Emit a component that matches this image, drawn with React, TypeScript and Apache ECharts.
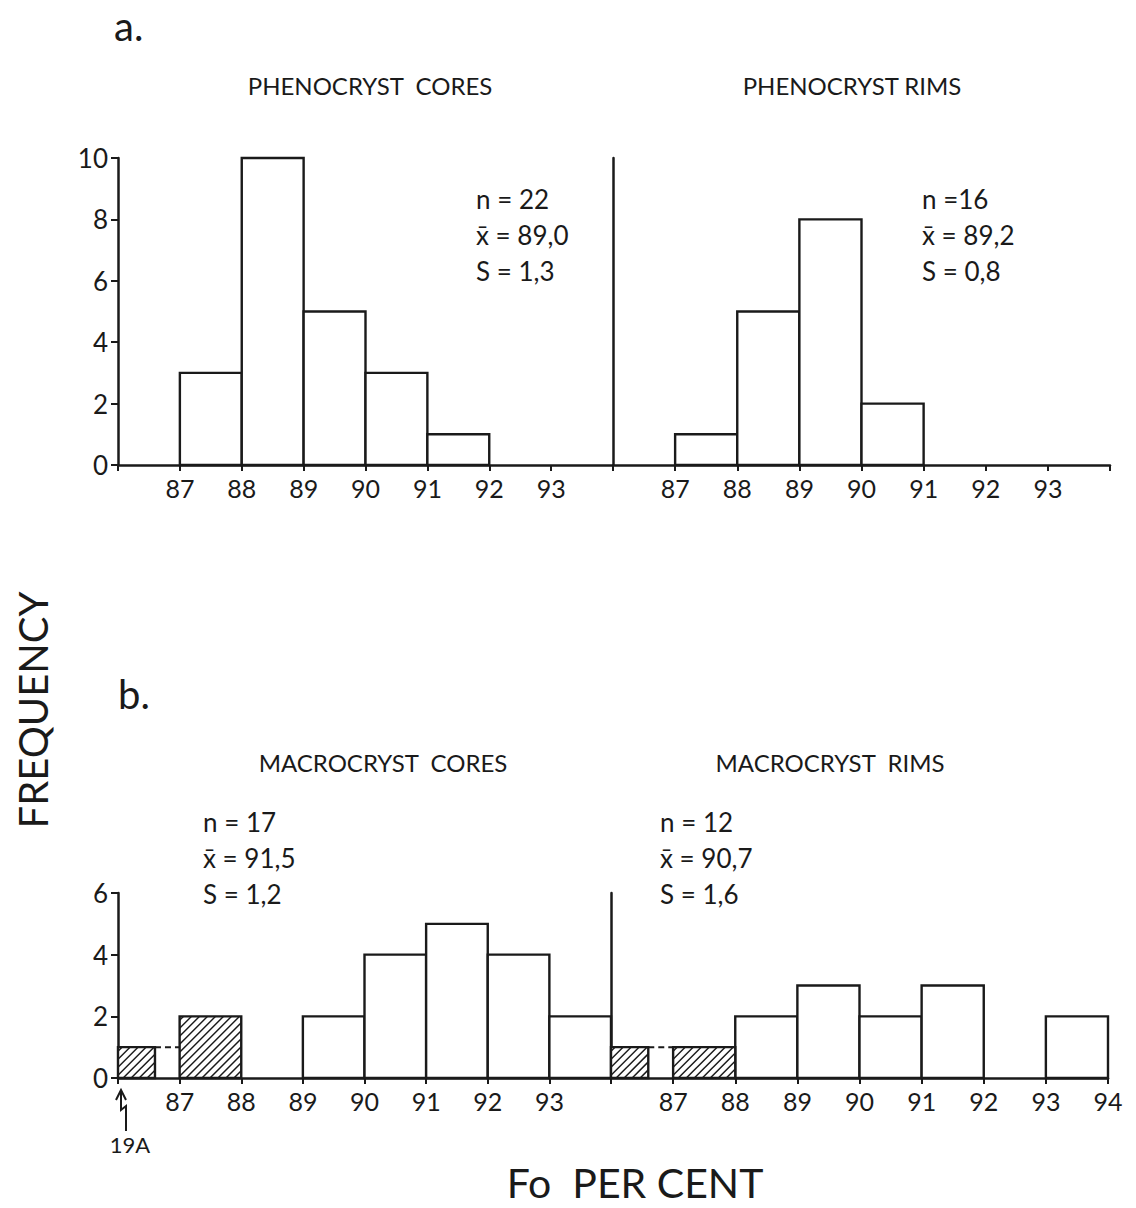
import React, { useEffect, useRef } from "react";
import * as echarts from "echarts";

// ---------- data ----------
const xTicks = [86, 87, 88, 89, 90, 91, 92, 93, 94];

// a. phenocryst cores (bin start -> frequency)
const phenoCoreBins = [87, 88, 89, 90, 91];
const phenoCoreCounts = [3, 10, 5, 3, 1];
// a. phenocryst rims
const phenoRimBins = [87, 88, 89, 90];
const phenoRimCounts = [1, 5, 8, 2];
// b. macrocryst cores
const macroCoreBins = [89, 90, 91, 92, 93];
const macroCoreCounts = [2, 4, 5, 4, 2];
// b. macrocryst cores, hatched (sample 19A): [start, end]
const macroCoreHatchStart = [86, 87];
const macroCoreHatchEnd = [86.6, 88];
const macroCoreHatchCounts = [1, 2];
// b. macrocryst rims
const macroRimBins = [88, 89, 90, 91, 93];
const macroRimCounts = [2, 3, 2, 3, 2];
const macroRimHatchStart = [86, 87];
const macroRimHatchEnd = [86.6, 88];
const macroRimHatchCounts = [1, 1];

const statsA1 = ["n = 22", "x\u0304 = 89,0", "S = 1,3"];
const statsA2 = ["n =16", "x\u0304 = 89,2", "S = 0,8"];
const statsB1 = ["n = 17", "x\u0304 = 91,5", "S = 1,2"];
const statsB2 = ["n = 12", "x\u0304 = 90,7", "S = 1,6"];

const INK = "#1a1a1a";
const FONT = "Lato, 'DejaVu Sans', sans-serif";

function buildData(bins: number[], counts: number[], hs: number[], he: number[], hc: number[]) {
  const d: number[][] = bins.map((b, i) => [b, b + 1, counts[i], 0]);
  hs.forEach((s, i) => d.push([s, he[i], hc[i], 1]));
  return d;
}

function renderItem(params: any, api: any) {
  const x0 = api.value(0), x1 = api.value(1), h = api.value(2), hatch = api.value(3);
  const p0 = api.coord([x0, 0]);
  const p1 = api.coord([x1, h]);
  const left = p0[0], right = p1[0], bottom = p0[1], top = p1[1];
  const children: any[] = [
    { type: "rect", shape: { x: left, y: top, width: right - left, height: bottom - top }, style: { fill: "#fff", stroke: null } },
  ];
  if (hatch) {
    const step = 8;
    for (let k = left + top + step / 2; k < right + bottom; k += step) {
      const xa = Math.max(left, k - bottom);
      const xb = Math.min(right, k - top);
      if (xb - xa > 0.5) {
        children.push({
          type: "line",
          shape: { x1: xa, y1: k - xa, x2: xb, y2: k - xb },
          style: { stroke: INK, lineWidth: 1.5 },
        });
      }
    }
  }
  children.push({
    type: "rect",
    shape: { x: left, y: top, width: right - left, height: bottom - top },
    style: { fill: null, stroke: INK, lineWidth: 2.4 },
  });
  return { type: "group", children };
}

export default function App() {
  const ref = useRef<HTMLDivElement>(null);
  useEffect(() => {
    if (!ref.current) return;
    const chart = echarts.init(ref.current, null, { renderer: "svg" });

    const grids = [
      { left: 118, top: 158, width: 495, height: 307 },
      { left: 613, top: 158, width: 497, height: 307 },
      { left: 118, top: 893, width: 493, height: 185 },
      { left: 611, top: 893, width: 497, height: 185 },
    ];
    const ymax = [10, 10, 6, 6];

    const xAxis = grids.map((_, i) => ({
      gridIndex: i,
      type: "value",
      min: 86,
      max: 94,
      interval: 1,
      axisLine: { show: true, onZero: false, lineStyle: { color: INK, width: 2.5 } },
      axisTick: { show: true, length: 6, lineStyle: { color: INK, width: 2 } },
      splitLine: { show: false },
      axisLabel: {
        color: INK,
        fontSize: 25,
        fontFamily: FONT,
        margin: 10,
        formatter: (v: number) => (v === xTicks[0] || (v === xTicks[xTicks.length - 1] && i !== 3) ? "" : String(v)),
      },
    }));

    const yAxis = grids.map((_, i) => {
      const isLeft = i % 2 === 0;
      return {
        gridIndex: i,
        type: "value",
        min: 0,
        max: ymax[i],
        interval: 2,
        axisLine: { show: true, onZero: false, lineStyle: { color: INK, width: 2.5 } },
        axisTick: { show: isLeft, length: 7, lineStyle: { color: INK, width: 2 } },
        splitLine: { show: false },
        axisLabel: { show: isLeft, color: INK, fontSize: 26, fontFamily: FONT, margin: 10 },
      };
    });

    const datasets = [
      buildData(phenoCoreBins, phenoCoreCounts, [], [], []),
      buildData(phenoRimBins, phenoRimCounts, [], [], []),
      buildData(macroCoreBins, macroCoreCounts, macroCoreHatchStart, macroCoreHatchEnd, macroCoreHatchCounts),
      buildData(macroRimBins, macroRimCounts, macroRimHatchStart, macroRimHatchEnd, macroRimHatchCounts),
    ];

    const series: any[] = datasets.map((d, i) => ({
      type: "custom",
      xAxisIndex: i,
      yAxisIndex: i,
      renderItem,
      data: d,
      z: 3,
    }));
    // dashed connectors for the 19A bars
    [2, 3].forEach((gi) => {
      const hs = gi === 2 ? macroCoreHatchEnd : macroRimHatchEnd;
      const hstart = gi === 2 ? macroCoreHatchStart : macroRimHatchStart;
      const hc = gi === 2 ? macroCoreHatchCounts : macroRimHatchCounts;
      series.push({
        type: "line",
        xAxisIndex: gi,
        yAxisIndex: gi,
        symbol: "none",
        data: [[hs[0], hc[0]], [hstart[1], hc[0]]],
        lineStyle: { color: INK, width: 2, type: [6, 4] },
        z: 4,
      });
    });

    const txt = (x: number, y: number, s: string, size: number, align = "left", extra: any = {}) => ({
      type: "text",
      x,
      y,
      style: { text: s, fontSize: size, fontFamily: FONT, fill: INK, textAlign: align, textVerticalAlign: "middle" },
      ...extra,
    });

    const statBlock = (x: number, y0: number, lines: string[]) =>
      lines.map((s, i) => txt(x, y0 + i * 36, s, 26));

    const graphic: any[] = [
      txt(114, 26, "a.", 40),
      txt(118, 694, "b.", 40),
      txt(370, 85, "PHENOCRYST  CORES", 24, "center"),
      txt(852, 85, "PHENOCRYST RIMS", 24, "center"),
      txt(383, 762, "MACROCRYST  CORES", 24, "center"),
      txt(830, 762, "MACROCRYST  RIMS", 24, "center"),
      ...statBlock(476, 199, statsA1),
      ...statBlock(922, 199, statsA2),
      ...statBlock(203, 822, statsB1),
      ...statBlock(660, 822, statsB2),
      txt(33, 710, "FREQUENCY", 40, "center", { rotation: Math.PI / 2 }),
      txt(635, 1182, "Fo  PER CENT", 41, "center"),
      txt(130, 1144, "19A", 22, "center"),
      {
        type: "polyline",
        shape: { points: [[121, 1091], [121, 1110], [126, 1106], [126, 1131]] },
        style: { stroke: INK, lineWidth: 2, fill: null },
      },
      {
        type: "polyline",
        shape: { points: [[116, 1100], [121, 1090], [126, 1100]] },
        style: { stroke: INK, lineWidth: 2, fill: null },
      },
    ];

    chart.setOption({
      animation: false,
      backgroundColor: "#fff",
      grid: grids.map((g) => ({ ...g, containLabel: false })),
      xAxis,
      yAxis,
      series,
      graphic,
    });
    return () => chart.dispose();
  }, []);

  return <div ref={ref} style={{ position: "fixed", left: 0, top: 0, width: 1136, height: 1208 }} />;
}
